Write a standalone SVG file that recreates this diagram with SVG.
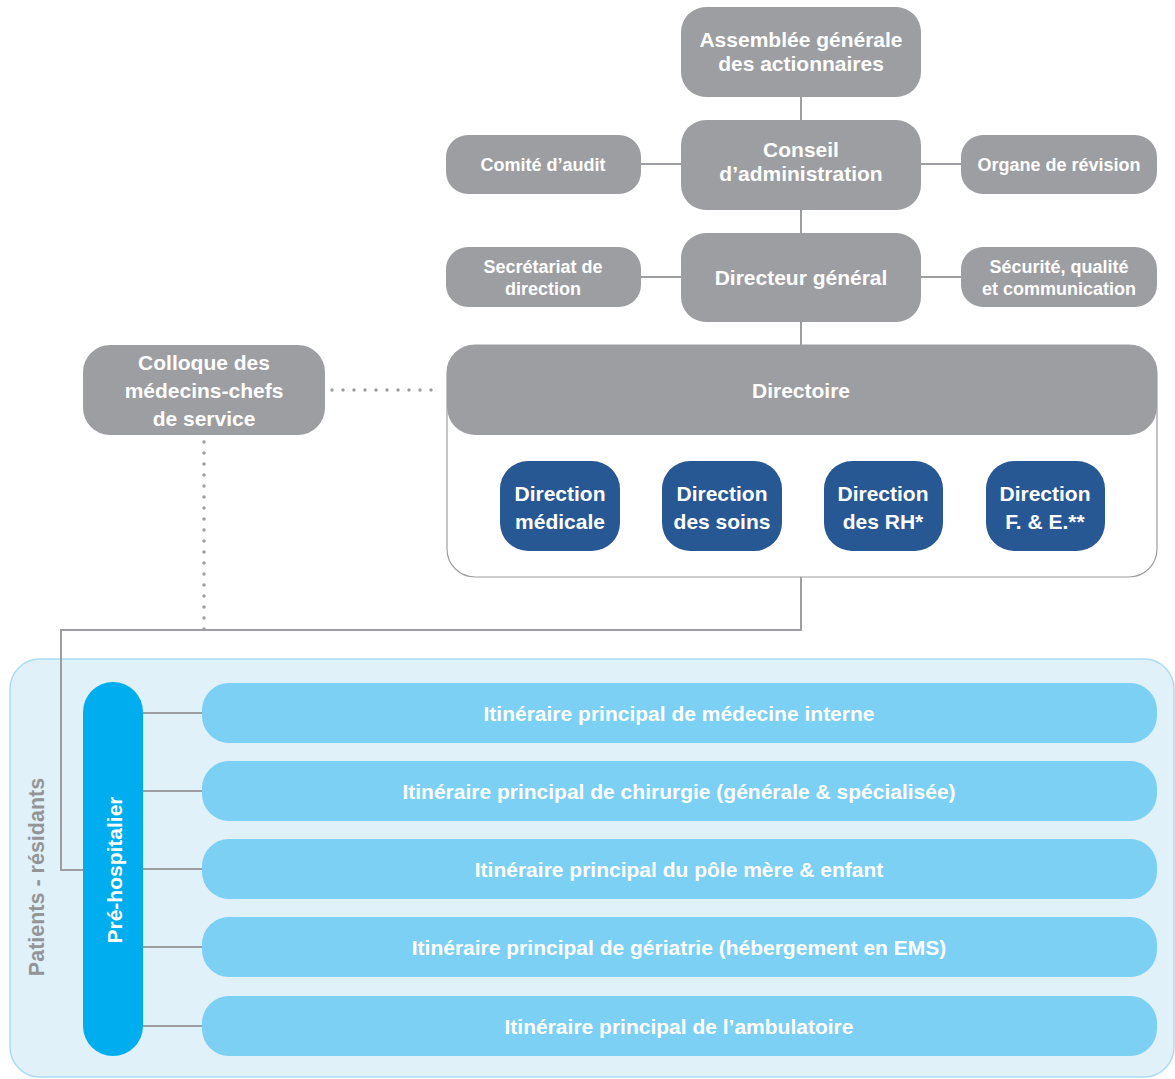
<svg xmlns="http://www.w3.org/2000/svg" width="1175" height="1079" viewBox="0 0 1175 1079">
<style>
text{font-family:"Liberation Sans",Arial,sans-serif;font-weight:bold;text-anchor:middle;fill:#fff}
.g{fill:#9d9ea2}
.b{fill:#285894}
.it{fill:#7bd0f4}
.ln{stroke:#9d9ea2;stroke-width:2;fill:none}
.dot{stroke:#9d9ea2;stroke-width:3.5;fill:none;stroke-linecap:round;stroke-dasharray:0 11}
.t21{font-size:21px}
.t18{font-size:18px}
</style>
<rect x="0" y="0" width="1175" height="1079" fill="#fff"/>
<g id="patients-container">
<rect x="10" y="659" width="1164" height="418" rx="30" fill="#e0f1fa" stroke="#a9ddf5" stroke-width="1.5"/>
<text x="37" y="877" class="t21" transform="rotate(-90 37 877)" style="fill:#939598;font-size:21.5px" dominant-baseline="central">Patients - résidants</text>
</g>
<g id="connectors">
<line class="ln" x1="801" y1="97" x2="801" y2="120"/>
<line class="ln" x1="801" y1="210" x2="801" y2="233"/>
<line class="ln" x1="801" y1="322" x2="801" y2="345"/>
<line class="ln" x1="641" y1="164" x2="681" y2="164"/>
<line class="ln" x1="921" y1="164" x2="961" y2="164"/>
<line class="ln" x1="641" y1="277" x2="681" y2="277"/>
<line class="ln" x1="921" y1="277" x2="961" y2="277"/>
<polyline class="ln" points="801,577 801,630 61,630 61,870 83,870"/>
<line class="dot" x1="332" y1="390" x2="440" y2="390"/>
<line class="dot" x1="204" y1="442" x2="204" y2="630"/>
<line class="ln" x1="143" y1="713" x2="202" y2="713"/>
<line class="ln" x1="143" y1="791" x2="202" y2="791"/>
<line class="ln" x1="143" y1="869" x2="202" y2="869"/>
<line class="ln" x1="143" y1="947" x2="202" y2="947"/>
<line class="ln" x1="143" y1="1026" x2="202" y2="1026"/>
</g>
<g id="assemblee">
<rect class="g" x="681" y="7" width="240" height="90" rx="25"/>
<text class="t21" x="801" y="47">Assemblée générale</text>
<text class="t21" x="801" y="71">des actionnaires</text>
</g>
<g id="conseil">
<rect class="g" x="681" y="120" width="240" height="90" rx="25"/>
<text class="t21" x="801" y="157">Conseil</text>
<text class="t21" x="801" y="181">d’administration</text>
</g>
<g id="comite-audit">
<rect class="g" x="446" y="135" width="195" height="59" rx="22"/>
<text class="t18" x="543" y="171">Comité d’audit</text>
</g>
<g id="organe-revision">
<rect class="g" x="961" y="135" width="196" height="59" rx="22"/>
<text class="t18" x="1059" y="171">Organe de révision</text>
</g>
<g id="directeur-general">
<rect class="g" x="681" y="233" width="240" height="89" rx="25"/>
<text class="t21" x="801" y="285">Directeur général</text>
</g>
<g id="secretariat">
<rect class="g" x="446" y="247" width="195" height="60" rx="22"/>
<text class="t18" x="543" y="273">Secrétariat de</text>
<text class="t18" x="543" y="295">direction</text>
</g>
<g id="securite">
<rect class="g" x="961" y="247" width="196" height="60" rx="22"/>
<text class="t18" x="1059" y="273">Sécurité, qualité</text>
<text class="t18" x="1059" y="295">et communication</text>
</g>
<g id="colloque">
<rect class="g" x="83" y="345" width="242" height="90" rx="27"/>
<text class="t21" x="204" y="370">Colloque des</text>
<text class="t21" x="204" y="398">médecins-chefs</text>
<text class="t21" x="204" y="426">de service</text>
</g>
<g id="directoire">
<rect x="447" y="345" width="710" height="232" rx="28" fill="#fff" stroke="#9d9ea2" stroke-width="1.2"/>
<rect class="g" x="447" y="345" width="710" height="90" rx="28"/>
<text class="t21" x="801" y="398">Directoire</text>
</g>
<g id="direction-medicale">
<rect class="b" x="500" y="461" width="120" height="90" rx="28"/>
<text class="t21" x="560" y="501">Direction</text>
<text class="t21" x="560" y="529">médicale</text>
</g>
<g id="direction-soins">
<rect class="b" x="662" y="461" width="120" height="90" rx="28"/>
<text class="t21" x="722" y="501">Direction</text>
<text class="t21" x="722" y="529">des soins</text>
</g>
<g id="direction-rh">
<rect class="b" x="824" y="461" width="119" height="90" rx="28"/>
<text class="t21" x="883" y="501">Direction</text>
<text class="t21" x="883" y="529">des RH*</text>
</g>
<g id="direction-fe">
<rect class="b" x="986" y="461" width="119" height="90" rx="28"/>
<text class="t21" x="1045" y="501">Direction</text>
<text class="t21" x="1045" y="529">F. &amp; E.**</text>
</g>
<g id="pre-hospitalier">
<rect x="83" y="682" width="60" height="374" rx="30" fill="#00aeef"/>
<text class="t21" x="114" y="870" transform="rotate(-90 114 870)" dominant-baseline="central">Pré-hospitalier</text>
</g>
<g id="it-medecine">
<rect class="it" x="202" y="683" width="955" height="60" rx="27"/>
<text class="t21" x="679" y="721">Itinéraire principal de médecine interne</text>
</g>
<g id="it-chirurgie">
<rect class="it" x="202" y="761" width="955" height="60" rx="27"/>
<text class="t21" x="679" y="799">Itinéraire principal de chirurgie (générale &amp; spécialisée)</text>
</g>
<g id="it-mere-enfant">
<rect class="it" x="202" y="839" width="955" height="60" rx="27"/>
<text class="t21" x="679" y="877">Itinéraire principal du pôle mère &amp; enfant</text>
</g>
<g id="it-geriatrie">
<rect class="it" x="202" y="917" width="955" height="60" rx="27"/>
<text class="t21" x="679" y="955">Itinéraire principal de gériatrie (hébergement en EMS)</text>
</g>
<g id="it-ambulatoire">
<rect class="it" x="202" y="996" width="955" height="60" rx="27"/>
<text class="t21" x="679" y="1034">Itinéraire principal de l’ambulatoire</text>
</g>
</svg>
